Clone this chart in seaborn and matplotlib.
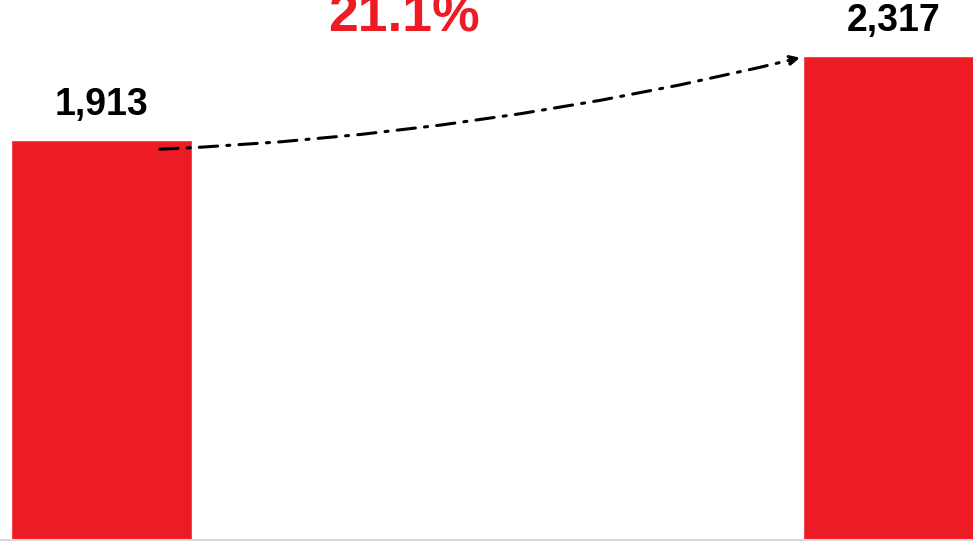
import matplotlib
matplotlib.use("Agg")
import matplotlib.pyplot as plt
import seaborn as sns
import pandas as pd

# Values shown on the two bars
categories = ["Period A", "Period B"]
values = [1913, 2317]
bar_color = "#ED1C24"

growth = (values[1] / values[0] - 1) * 100

sns.set_theme(style="white")
plt.rcParams["font.family"] = ["Liberation Sans", "DejaVu Sans"]

df = pd.DataFrame({"category": categories, "value": values})

fig = plt.figure(figsize=(9.73, 5.41), dpi=100)
ax = fig.add_axes([0, 1 / 541, 1, 540 / 541])

sns.barplot(data=df, x="category", y="value", color=bar_color,
            saturation=1, width=0.2285, ax=ax)

ax.set_xlim(-0.128, 1.1)
ax.set_ylim(0, 2585)
ax.set_xlabel("")
ax.set_ylabel("")
ax.set_xticks([])
ax.set_yticks([])
for side in ["top", "left", "right"]:
    ax.spines[side].set_visible(False)
ax.spines["bottom"].set_color("#d9d9d9")
ax.spines["bottom"].set_linewidth(1.5)

# Value labels above each bar
for i, v in enumerate(values):
    ax.annotate(f"{v:,}", xy=(i, v), xytext=(0, 18), textcoords="offset points",
                ha="center", va="baseline", fontsize=27, fontweight="bold",
                color="black")

# Curved dash-dot arrow connecting the bars
ax.annotate("", xy=(0.885, 2312), xytext=(0.07, 1870),
            arrowprops=dict(arrowstyle="-|>", color="black", lw=2.2,
                            linestyle=(0, (6, 3, 1, 3)),
                            connectionstyle="arc3,rad=0.05",
                            mutation_scale=14))

# Growth percentage
ax.text(0.382, 2432, f"{growth:.1f}%", ha="center", va="baseline",
        fontsize=38.5, fontweight="bold", color=bar_color, clip_on=False)

fig.savefig("out.png", dpi=100)
